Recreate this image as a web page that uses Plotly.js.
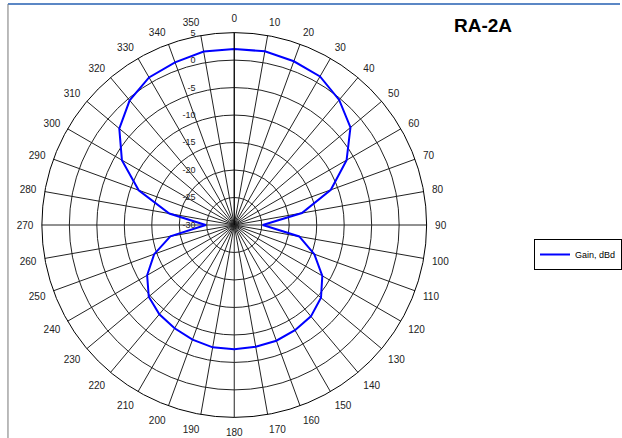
<!DOCTYPE html>
<html>
<head>
<meta charset="utf-8">
<script src="https://cdn.plot.ly/plotly-3.0.1.min.js"></script>
<style>html,body{margin:0;padding:0;background:#fff}#chart{width:622px;height:438px}</style>
</head>
<body>
<div id="chart"></div>
<script>
const angles = [0,10,20,30,40,50,60,70,80,90,100,110,120,130,140,150,160,170,180,190,200,210,220,230,240,250,260,270,280,290,300,310,320,330,340,350,360];
const gainDbd = [2.0,2.1,1.7,1.2,-0.3,-2.4,-6.4,-11.3,-17.5,-24.8,-18.0,-14.5,-11.5,-9.4,-8.3,-7.9,-7.6,-7.5,-7.4,-7.4,-7.8,-8.3,-8.8,-9.7,-11.7,-14.5,-18.2,-24.8,-18.0,-11.5,-6.4,-2.7,-0.4,1.0,1.5,2.05,2.0];
const radialTicks = [-30,-25,-20,-15,-10,-5,0,5];
const radialLabels = ['-30','-25','-20','-15','-10','-5','0','5'];
const angleTicks = [0,10,20,30,40,50,60,70,80,90,100,110,120,130,140,150,160,170,180,190,200,210,220,230,240,250,260,270,280,290,300,310,320,330,340,350];
const angleLabels = angleTicks.map(String);
const seriesName = 'Gain, dBd';
const chartTitle = 'RA-2A';

const W = 622, H = 438, cx = 235, cy = 225, R = 193;
// trailing non-breaking spaces push the (right-anchored) radial labels left of the 0° spoke
const padLabel = s => s + '\u00A0'.repeat(14);
const data = [{
  type: 'scatterpolar',
  r: gainDbd,
  theta: angles,
  mode: 'lines',
  name: seriesName,
  line: {color: '#0000ff', width: 2},
  showlegend: true
}];
const layout = {
  width: W, height: H,
  margin: {l: 0, r: 0, t: 0, b: 0},
  paper_bgcolor: '#ffffff',
  font: {family: 'Liberation Sans, Arial, sans-serif', size: 9, color: '#000'},
  showlegend: true,
  legend: {
    x: 536/W, y: 1 - 239/H, xanchor: 'left', yanchor: 'top',
    bordercolor: '#000', borderwidth: 1, bgcolor: '#fff',
    font: {size: 9, color: '#000'},
    itemwidth: 30
  },
  polar: {
    domain: {x: [(cx - R)/W, (cx + R)/W], y: [(H - cy - R)/H, (H - cy + R)/H]},
    bgcolor: '#ffffff',
    radialaxis: {
      range: [-30, 5],
      tickvals: radialTicks,
      ticktext: radialLabels.map(padLabel),
      angle: 90,
      tickangle: 90,
      side: 'counterclockwise',
      showline: true, linecolor: '#000', linewidth: 1,
      gridcolor: '#222', gridwidth: 1,
      ticks: '',
      tickfont: {size: 9, color: '#222'}
    },
    angularaxis: {
      rotation: 90,
      direction: 'clockwise',
      tickvals: angleTicks,
      ticktext: angleLabels,
      showline: true, linecolor: '#000', linewidth: 1,
      gridcolor: '#222', gridwidth: 1,
      ticks: 'outside', ticklen: 6, tickcolor: 'rgba(0,0,0,0)',
      tickfont: {size: 10, color: '#222'}
    }
  },
  annotations: [{
    text: '<b>' + chartTitle + '</b>', xref: 'paper', yref: 'paper',
    x: 485/W, y: 1 - 26/H, xanchor: 'center', yanchor: 'middle', showarrow: false,
    font: {size: 19, color: '#000', family: 'Liberation Sans, Arial, sans-serif'}
  }],
  shapes: [
    {type: 'line', xref: 'paper', yref: 'paper', x0: 8/W, x1: 1, y0: 1 - 4/H, y1: 1 - 4/H, line: {color: '#5b87c5', width: 2}},
    {type: 'line', xref: 'paper', yref: 'paper', x0: 8/W, x1: 8/W, y0: 0, y1: 1 - 4/H, line: {color: '#777', width: 1}}
  ]
};
Plotly.newPlot('chart', data, layout, {displayModeBar: false, staticPlot: true});
</script>
</body>
</html>
